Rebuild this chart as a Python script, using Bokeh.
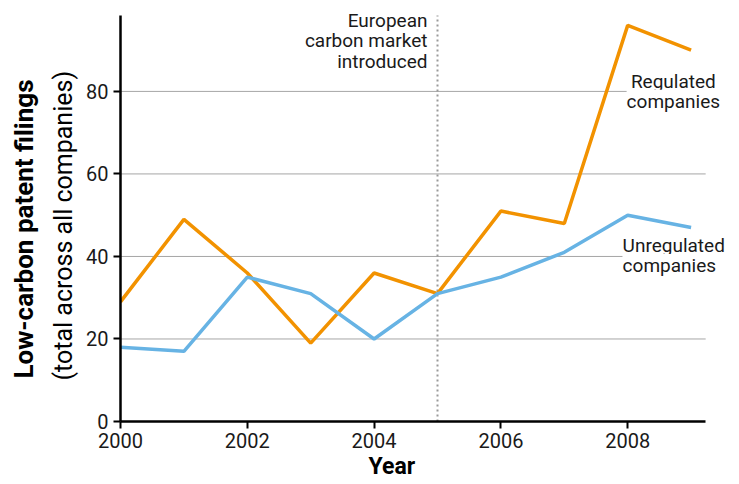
from bokeh.plotting import figure
from bokeh.models import Label, Range1d, FixedTicker, Title
from bokeh.embed import file_html
from bokeh.resources import INLINE

years = [2000, 2001, 2002, 2003, 2004, 2005, 2006, 2007, 2008, 2009]
regulated = [29, 49, 36, 19, 36, 31, 51, 48, 96, 90]
unregulated = [18, 17, 35, 31, 20, 31, 35, 41, 50, 47]
x_ticks = [2000, 2002, 2004, 2006, 2008]
y_ticks = [0, 20, 40, 60, 80]
event_year = 2005
x_axis_end = 2009.23
y_axis_top = 98.4

FONT = "Roboto"
ORANGE = "#F29200"
BLUE = "#67B3E4"
TXT = "#1a1a1a"

p = figure(width=739, height=484, output_backend="svg", toolbar_location=None,
           x_range=Range1d(2000, 2009.59), y_range=Range1d(0, 100.58),
           min_border_left=120, min_border_right=11, min_border_top=6, min_border_bottom=63)
p.outline_line_color = None
p.background_fill_color = "white"
p.xgrid.visible = False
p.ygrid.visible = False

# horizontal gridlines (stop at the end of the x axis)
gy = y_ticks[1:]
p.segment(x0=[2000] * len(gy), x1=[x_axis_end] * len(gy), y0=gy, y1=gy,
          line_color="#a6a6a6", line_width=1)

for ax in (p.xaxis[0], p.yaxis[0]):
    ax.axis_line_color = "black"
    ax.axis_line_width = 2.5
    ax.major_tick_line_color = "black"
    ax.major_tick_line_width = 2
    ax.major_tick_out = 7
    ax.major_tick_in = 0
    ax.minor_tick_line_color = None
    ax.major_label_text_font = FONT
    ax.major_label_text_font_size = "20px"
    ax.major_label_text_color = TXT
p.xaxis[0].ticker = FixedTicker(ticks=x_ticks)
p.yaxis[0].ticker = FixedTicker(ticks=y_ticks)
p.xaxis[0].bounds = (2000, x_axis_end)
p.yaxis[0].bounds = (0, y_axis_top)
p.xaxis[0].major_label_standoff = 4
p.yaxis[0].major_label_standoff = 5

# y-axis titles (two lines, different weights)
ytitle2 = Title(text="(total across all companies)", align="left", offset=41,
                text_font=FONT, text_font_size="25px", text_font_style="normal",
                text_color="black", standoff=12)
p.add_layout(ytitle2, "left")
ytitle1 = Title(text="Low-carbon patent filings", align="left", offset=43,
                text_font=FONT, text_font_size="26px", text_font_style="bold",
                text_color="black", standoff=0, vertical_align="top")
p.add_layout(ytitle1, "left")

xtitle = Title(text="Year", align="left", offset=248, text_font=FONT,
               text_font_size="23px", text_font_style="bold", text_color="black",
               standoff=5, vertical_align="top")
p.add_layout(xtitle, "below")

# event marker
p.segment(x0=[event_year], x1=[event_year], y0=[0], y1=[y_axis_top],
          line_color="#999999", line_width=2, line_dash="2 3")

p.line(years, regulated, line_color=ORANGE, line_width=3.5)
p.line(years, unregulated, line_color=BLUE, line_width=3.5)

def lab(text, x, y, xo=0, yo=0, align="left", size="19px", bg=None):
    l = Label(x=x, y=y, x_offset=xo, y_offset=yo, text=text, text_font=FONT,
              text_font_size=size, text_color=TXT, text_align=align, text_baseline="middle")
    if bg:
        l.background_fill_color = bg
    p.add_layout(l)

lab("European", event_year, 97.3, xo=-10, align="right")
lab("carbon market", event_year, 92.4, xo=-10, align="right")
lab("introduced", event_year, 87.3, xo=-10, align="right")

lab("Regulated", 2008.72, 82.5, align="center", bg="white")
lab("companies", 2008.72, 77.6, align="center", bg="white")
lab("Unregulated", 2007.92, 42.7, align="left", bg="white")
lab("companies", 2007.92, 37.8, align="left", bg="white")

open("out.html", "w").write(file_html(p, INLINE))
